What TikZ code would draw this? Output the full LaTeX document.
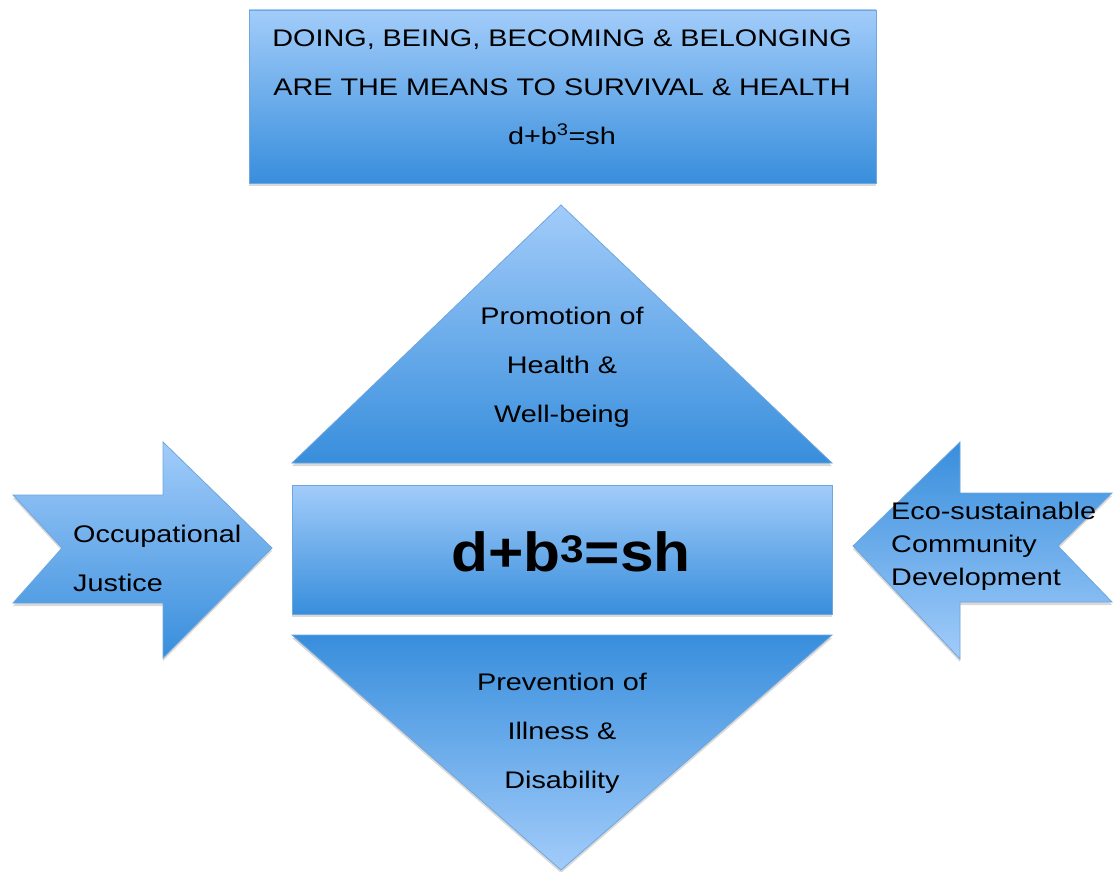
\documentclass[tikz,border=0pt]{standalone}
\usepackage{fontspec}
\setmainfont[FakeStretch=1.2]{Liberation Sans}
\newfontfamily\corefont[FakeStretch=1.1]{Liberation Sans}
\usepackage{xcolor}
\usetikzlibrary{shadows}

\definecolor{skylight}{HTML}{A2CCFA}
\definecolor{skydark}{HTML}{388EDC}
\definecolor{skyedge}{HTML}{6FA6DC}

\tikzset{
  panel/.style={draw=skyedge,line width=0.8pt,top color=skylight,bottom color=skydark,
    drop shadow={opacity=0.3,shadow xshift=0pt,shadow yshift=-3pt}},
  panelflip/.style={panel,top color=skydark,bottom color=skylight},
  label/.style={font=\fontsize{24}{49}\selectfont,align=center,inner sep=0pt}
}

\begin{document}
\begin{tikzpicture}[x=1pt,y=-1pt]
    \useasboundingbox (0,0) rectangle (1113,872);

    % Heading box
    \path[panel] (249,10) rectangle (876,183);
    \node[label] (title) at (562,87) {DOING, BEING, BECOMING \& BELONGING\\ARE THE MEANS TO SURVIVAL \& HEALTH\\d+b\textsuperscript{3}=sh};

    % Promotion triangle
    \path[panel] (292,463) -- (561,205) -- (832,463) -- cycle;
    \node[label] (promo) at (562,367) {Promotion of\\Health \&\\Well-being};

    % Centre bar
    \path[panel] (292,485) rectangle (832,614);
    \node[font=\corefont\fontsize{55}{60}\selectfont\bfseries,inner sep=0pt] (core) at (571,552) {d+b\textsuperscript{3}=sh};

    % Prevention triangle
    \path[panelflip] (292,635) -- (832,635) -- (561,870) -- cycle;
    \node[label] (prevent) at (562,733) {Prevention of\\Illness \&\\Disability};

    % Left arrow
    \path[panel] (13,495) -- (163,495) -- (163,442) -- (272,548) -- (163,658)
        -- (163,603) -- (13,603) -- (62,548) -- cycle;
    \node[label,align=left,anchor=west] (justice) at (73,558) {Occupational\\Justice};

    % Right arrow
    \path[panelflip] (1112,493) -- (960,493) -- (960,442) -- (853,546) -- (960,659)
        -- (960,602) -- (1112,602) -- (1058,546) -- cycle;
    \node[label,font=\fontsize{24}{33}\selectfont,align=left,anchor=west] (eco) at (891,546) {Eco-sustainable\\Community\\Development};
\end{tikzpicture}
\end{document}
